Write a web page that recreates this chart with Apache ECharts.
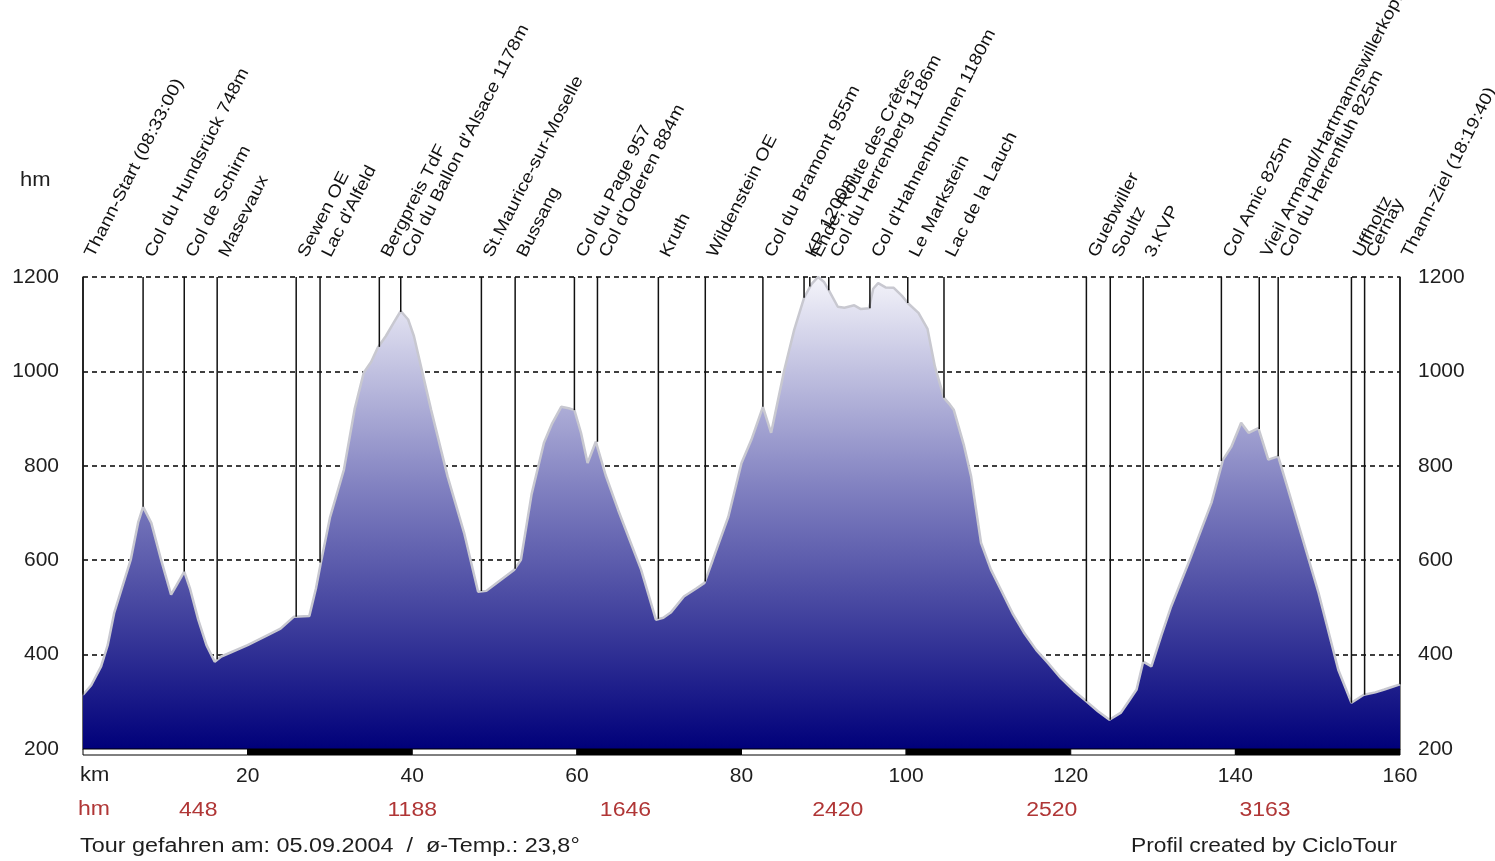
<!DOCTYPE html>
<html>
<head>
<meta charset="utf-8">
<script src="https://cdn.jsdelivr.net/npm/echarts@6/dist/echarts.min.js"></script>
<style>
html,body{margin:0;padding:0;background:#fff;}
#chart{width:1495px;height:861px;}
</style>
</head>
<body>
<div id="chart"></div>
<script>
// ---- data ----
const kmPoints = [0,1.0,2.2,3.0,3.8,4.8,5.8,6.7,7.3,8.3,9.5,10.7,11.3,12.3,13.0,14.0,15.0,16.0,16.8,18.0,20.0,22.5,24.0,25.6,27.5,28.3,28.9,30.0,31.7,33.0,34.1,35.0,35.8,36.8,37.8,38.6,39.5,40.2,41.2,42.3,44.3,46.3,48.0,49.0,50.5,52.4,53.2,54.5,56.0,57.0,58.1,59.0,59.7,60.5,61.3,62.3,63.5,65.0,67.8,69.6,70.5,71.4,73.0,74.5,75.5,76.5,78.4,80.0,81.2,82.6,83.6,85.2,86.4,87.6,88.5,89.3,90.0,90.6,91.7,92.5,93.7,94.5,95.5,96.0,96.6,97.5,98.5,99.5,100.2,101.5,102.6,103.5,104.6,105.3,105.8,107.0,107.9,109.1,110.3,111.5,113.0,114.3,115.8,117.2,118.8,120.4,121.9,123.3,124.7,126.1,127.0,128.0,128.8,129.8,131.0,132.2,134.6,137.1,138.5,139.5,140.7,141.6,142.8,144.0,145.2,146.4,147.6,150.1,152.5,154.1,155.6,157.0,158.1,160.0];
const elevPoints = [315,335,375,420,489,545,601,680,713,679,600,527,545,576,540,474,420,385,396,405,420,442,455,480,482,540,595,690,792,920,997,1020,1050,1075,1105,1128,1110,1075,1000,918,777,658,533,535,555,580,601,740,849,890,925,922,918,870,806,851,780,707,580,474,478,489,523,540,552,600,692,806,855,925,870,1003,1088,1156,1185,1200,1190,1172,1137,1135,1140,1132,1134,1175,1187,1178,1177,1160,1145,1124,1090,1010,944,930,918,845,777,637,580,538,485,447,410,383,350,323,301,280,262,277,300,326,385,375,440,502,607,722,813,840,891,870,880,813,820,750,679,531,368,298,315,320,326,337];

const wpKm = [0,7.3,12.3,16.3,25.9,28.8,36.0,38.6,48.4,52.5,59.7,62.5,69.9,75.6,82.6,87.6,88.3,90.6,95.6,100.2,104.6,121.9,124.8,128.8,138.3,142.9,145.2,154.1,155.7,160];
const wpElev = [315,713,576,390,480,595,1052,1126,535,582,918,851,476,555,925,1156,1180,1172,1134,1145,944,301,262,385,810,878,820,298,315,337];
const wpNames = ["Thann-Start (08:33:00)","Col du Hundsrück 748m","Col de Schirm","Masevaux","Sewen OE","Lac d'Alfeld","Bergpreis TdF","Col du Ballon d'Alsace 1178m","St.Maurice-sur-Moselle","Bussang","Col du Page 957","Col d'Oderen 884m","Kruth","Wildenstein OE","Col du Bramont 955m","KP 1200m","Ende, Route des Crêtes","Col du Herrenberg 1186m","Col d'Hahnenbrunnen 1180m","Le Markstein","Lac de la Lauch","Guebwiller","Soultz","3.KVP","Col Amic 825m","Vieil Armand/Hartmannswillerkopf","Col du Herrenfluh 825m","Uffholtz","Cernay","Thann-Ziel (18:19:40)"];

const ascentKm = [14.0,40.0,65.9,91.7,117.7,143.6];
const ascentValues = [448,1188,1646,2420,2520,3163];

const barStarts = [0,20,40,60,80,100,120,140];
const barLength = 20;

const footerLeft = "Tour gefahren am: 05.09.2004  /  ø-Temp.: 23,8°";
const footerRight = "Profil created by CicloTour";

// ---- chart ----
const FONT = "'Liberation Sans', Arial, sans-serif";
const chart = echarts.init(document.getElementById('chart'), null, {renderer:'canvas'});

const profile = kmPoints.map((k,i)=>[k, elevPoints[i]]);
const wpData = wpKm.map((k,i)=>[k, wpElev[i], i]);
const barData = barStarts.map((s,i)=>[s, s+barLength, i]);
const ascData = ascentKm.map((k,i)=>[k, ascentValues[i]]);

const TXT = '#1e1e1e';
const RED = '#b03636';

const option = {
  backgroundColor:'#ffffff',
  animation:false,
  grid:{left:83, right:95, top:277, bottom:112, containLabel:false},
  xAxis:{
    type:'value', min:0, max:160, interval:20,
    axisLine:{show:false}, axisTick:{show:false}, splitLine:{show:false},
    axisLabel:{
      margin:17, fontSize:21, color:TXT, fontFamily:FONT,
      formatter:v=> v===0 ? '' : String(v)
    }
  },
  yAxis:[{
    type:'value', min:200, max:1200, interval:200, position:'left',
    axisLine:{show:true, lineStyle:{color:'#333', width:1.5}},
    axisTick:{show:false},
    axisLabel:{margin:24, fontSize:21, color:TXT, fontFamily:FONT, formatter:v=>String(v)},
    splitLine:{show:true, lineStyle:{color:'#000', width:1.5, type:[5,4]}}
  },{
    type:'value', min:200, max:1200, interval:200, position:'right',
    axisLine:{show:true, lineStyle:{color:'#555', width:1.5}},
    axisTick:{show:false},
    axisLabel:{margin:18, fontSize:21, color:TXT, fontFamily:FONT, formatter:v=>String(v)},
    splitLine:{show:false}
  }],
  graphic:[
    {type:'text', left:20, top:170, scaleX:1.1, style:{text:'hm', font:'20px '+FONT, fill:TXT}},
    {type:'text', left:80, top:765, scaleX:1.1, style:{text:'km', font:'20px '+FONT, fill:TXT}},
    {type:'text', left:78, top:799, scaleX:1.15, style:{text:'hm', font:'20px '+FONT, fill:RED}},
    {type:'text', left:80, top:836, scaleX:1.17, style:{text:footerLeft, font:'20px '+FONT, fill:TXT}},
    {type:'text', left:1131, top:836, scaleX:1.14, style:{text:footerRight, font:'20px '+FONT, fill:TXT}}
  ],
  series:[
    {
      type:'line', data:profile, showSymbol:false, smooth:false, z:2,
      lineStyle:{color:'#c8c8d0', width:2.5},
      areaStyle:{
        origin:'start', opacity:1,
        color:new echarts.graphic.LinearGradient(0,0,0,1,[
          {offset:0, color:'#f4f4fa'},
          {offset:0.45, color:'#8080c0'},
          {offset:1, color:'#00007a'}
        ])
      }
    },
    {
      type:'custom', z:5, clip:false,
      data:wpData,
      renderItem:(params, api)=>{
        const top = api.coord([api.value(0), 1200]);
        const bot = api.coord([api.value(0), api.value(1)]);
        const name = wpNames[api.value(2)];
        return {type:'group', children:[
          {type:'line', shape:{x1:top[0], y1:top[1], x2:bot[0], y2:bot[1]},
           style:{stroke:'#111', lineWidth:1.5}},
          {type:'text', x:top[0]+14, y:top[1]-17, rotation:63*Math.PI/180, scaleX:1.15,
           style:{text:name, font:'17px '+FONT, fill:'#111', align:'left', verticalAlign:'bottom'}}
        ]};
      }
    },
    {
      type:'custom', z:6, clip:false,
      data:barData,
      renderItem:(params, api)=>{
        const a = api.coord([api.value(0), 200]);
        const b = api.coord([api.value(1), 200]);
        const dark = api.value(2) % 2 === 1;
        return {type:'rect', shape:{x:a[0], y:a[1], width:b[0]-a[0], height:6},
          style:{fill: dark ? '#000' : '#fff', stroke:'#000', lineWidth:1}};
      }
    },
    {
      type:'custom', z:6, clip:false,
      data:ascData,
      renderItem:(params, api)=>{
        const p = api.coord([api.value(0), 200]);
        return {type:'text', x:p[0], y:p[1]+61, scaleX:1.15,
          style:{text:String(api.value(1)), font:'20px '+FONT, fill:RED, align:'center', verticalAlign:'middle'}};
      }
    }
  ]
};
chart.setOption(option);
</script>
</body>
</html>
